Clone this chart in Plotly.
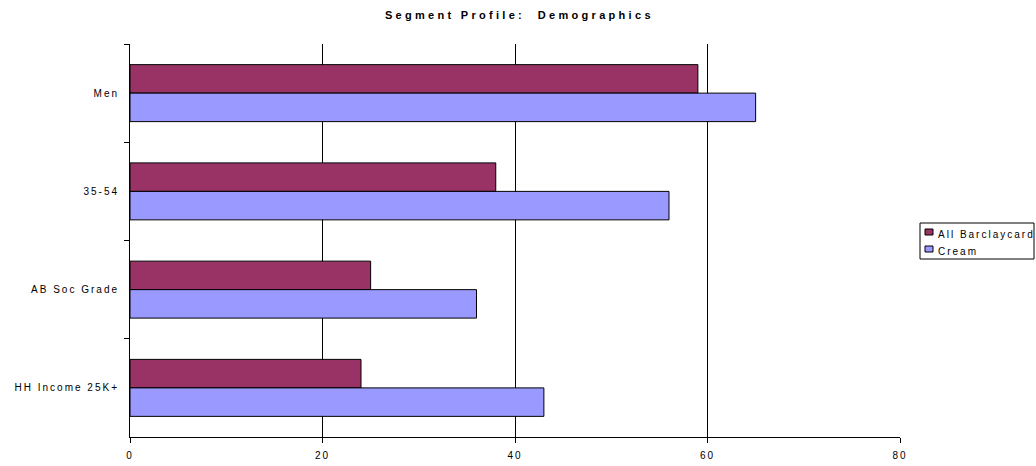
import plotly.graph_objects as go

categories = ["Men", "35-54", "AB Soc Grade", "HH Income 25K+"]
all_barclaycard = [59, 38, 25, 24]
cream = [65, 56, 36, 43]
x_ticks = [0, 20, 40, 60, 80]
series_names = ["All Barclaycard", "Cream"]
series_colors = ["#993366", "#9999FF"]

FONT = "Liberation Sans, Arial, sans-serif"
SP = 2.0  # letter spacing (px) for axis and legend text

fig = go.Figure()
for name, vals, col in zip(series_names, [all_barclaycard, cream], series_colors):
    fig.add_trace(go.Bar(
        y=categories, x=vals, orientation="h", name=name,
        marker=dict(color=col, line=dict(color="black", width=1)),
    ))

# compact legend drawn in paper coordinates (plot area: 130..900 px, 44..437 px)
def px_x(p):
    return (p - 130) / 770.0

def px_y(p):
    return (437 - p) / 393.0

shapes = [dict(type="rect", xref="paper", yref="paper",
               x0=px_x(920), x1=px_x(1034), y0=px_y(259), y1=px_y(223),
               line=dict(color="black", width=1), fillcolor="white", layer="above")]
annotations = []
for i, (name, col) in enumerate(zip(series_names, series_colors)):
    sw_c = 232 + 17 * i
    tx_c = 234.5 + 16.5 * i
    shapes.append(dict(type="rect", xref="paper", yref="paper",
                       x0=px_x(925), x1=px_x(933), y0=px_y(sw_c + 3), y1=px_y(sw_c - 3),
                       line=dict(color="black", width=1), fillcolor=col, layer="above"))
    annotations.append(dict(text=name, xref="paper", yref="paper",
                            x=px_x(937 + len(name) * SP / 2), y=px_y(tx_c),
                            xanchor="left", yanchor="middle", showarrow=False, borderpad=0,
                            font=dict(size=10, family=FONT, color="black")))

fig.update_layout(
    width=1036, height=466,
    margin=dict(l=130, r=136, t=44, b=29, autoexpand=False),
    paper_bgcolor="white", plot_bgcolor="white",
    barmode="group", bargap=0.42, bargroupgap=0,
    font=dict(family=FONT, size=10, color="black"),
    title=dict(text="<b>Segment Profile:  Demographics</b>", x=0.5013, xanchor="center",
               y=1 - 15 / 466, yanchor="middle", font=dict(size=11, family=FONT)),
    showlegend=False,
    shapes=shapes,
    annotations=annotations,
)
fig.update_xaxes(
    range=[0, 80], tickvals=x_ticks, showgrid=True, gridcolor="black", gridwidth=1,
    showline=True, linecolor="black", linewidth=1, ticks="outside", ticklen=5,
    tickcolor="black", zeroline=False, tickfont=dict(size=10), ticklabelstandoff=4,
)
fig.update_yaxes(
    autorange="reversed", showline=True, linecolor="black", linewidth=1,
    ticks="outside", ticklen=5, tickcolor="black", tickson="boundaries",
    showgrid=False, tickfont=dict(size=10), ticklabelstandoff=8,
)

post = """
(function(){
  document.querySelectorAll('.gtitle').forEach(function(t){t.style.letterSpacing='3.3px';});
  document.querySelectorAll('.ytick text').forEach(function(t){t.style.letterSpacing='%spx';});
  document.querySelectorAll('.xtick text').forEach(function(t){t.style.letterSpacing='%spx';});
  document.querySelectorAll('.annotation-text').forEach(function(t){t.style.letterSpacing='%spx';});
})();
""" % (SP, SP, SP)

fig.write_html("out.html", post_script=post)
